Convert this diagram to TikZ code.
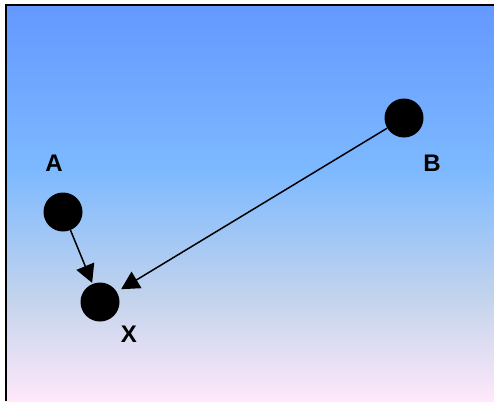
\documentclass[tikz,border=0pt]{standalone}
\usepackage{fontspec}
\setmainfont{Liberation Sans}
\usetikzlibrary{arrows.meta, positioning}
\definecolor{topblue}{RGB}{100,152,255}
\definecolor{midblue}{RGB}{125,185,255}
\definecolor{greyblue}{RGB}{196,212,236}
\definecolor{botpink}{RGB}{255,232,250}

\begin{document}
\begin{tikzpicture}[x=1pt, y=-1pt, >={Triangle[length=18pt, width=19pt]},
    dot/.style={circle, fill=black, minimum size=39pt, inner sep=0pt},
    lbl/.style={font=\fontsize{24}{24}\selectfont\bfseries, inner sep=0pt}
]
    \useasboundingbox (0,0) rectangle (494,401);
    % background
    \shade[top color=topblue, bottom color=midblue] (6,5) rectangle (494,170.5);
    \shade[top color=midblue, bottom color=greyblue] (6,170) rectangle (494,300.5);
    \shade[top color=greyblue, bottom color=botpink] (6,300) rectangle (494,401);
    \draw[line width=2pt] (6,401) -- (6,5) -- (494,5);
    \node[dot] (a) at (63,212) {};
    \node[dot] (b) at (404,118) {};
    \node[dot] (x) at (100,302) {};
    \node[lbl] (la) at (54,163) {A};
    \node[lbl] (lb) at (432,163) {B};
    \node[lbl] (lx) at (129,334) {X};
    \draw[->, line width=1.5pt, shorten >=1pt] (a) -- (x);
    \draw[->, line width=1.5pt, shorten >=5pt] (b) -- (x);
\end{tikzpicture}
\end{document}
